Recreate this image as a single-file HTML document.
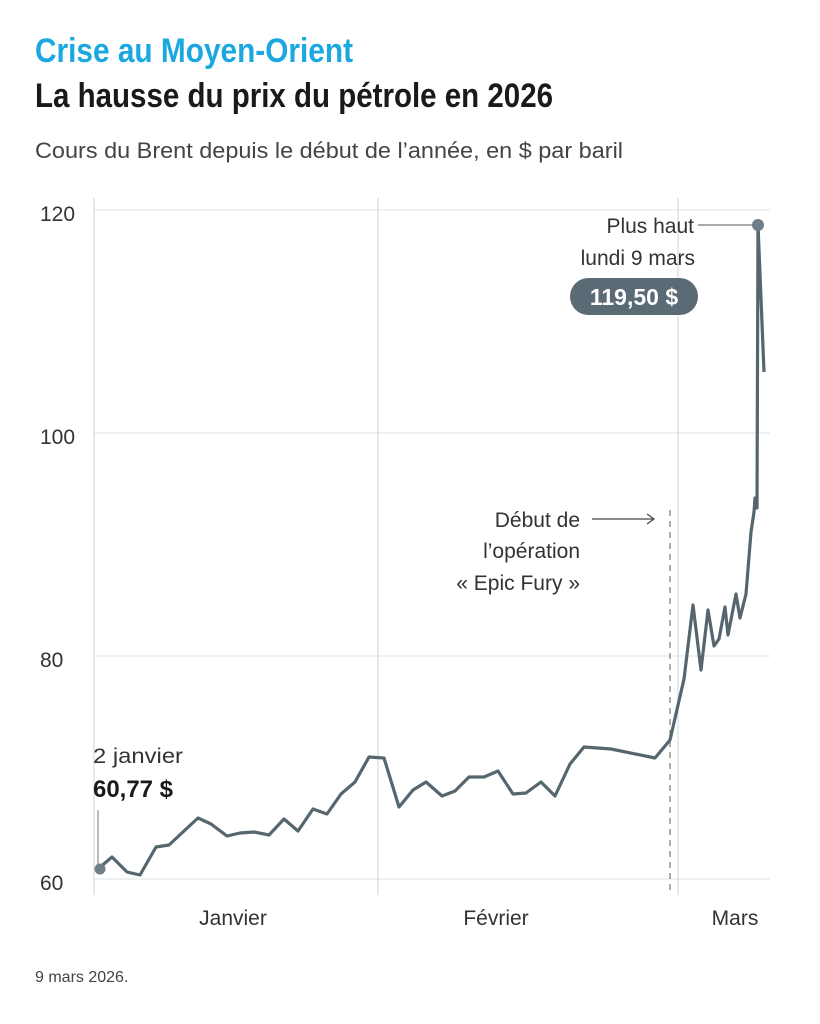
<!DOCTYPE html>
<html><head><meta charset="utf-8"><style>body{margin:0;background:#fff}svg{display:block}</style></head>
<body>
<svg width="820" height="1024" viewBox="0 0 820 1024" font-family="Liberation Sans, sans-serif">
<rect width="820" height="1024" fill="#fff"/>
<text x="35" y="62" font-size="34" font-weight="bold" fill="#1ba8e0" textLength="318" lengthAdjust="spacingAndGlyphs">Crise au Moyen-Orient</text>
<text x="35" y="107" font-size="34" font-weight="bold" fill="#1a1a1a" textLength="518" lengthAdjust="spacingAndGlyphs">La hausse du prix du pétrole en 2026</text>
<text x="35" y="158" font-size="22" fill="#444" textLength="588" lengthAdjust="spacingAndGlyphs">Cours du Brent depuis le début de l’année, en $ par baril</text>
<g stroke="#e3e8ec" stroke-width="1.2">
<line x1="94" y1="210" x2="770" y2="210"/><line x1="94" y1="433" x2="770" y2="433"/>
<line x1="94" y1="656" x2="770" y2="656"/><line x1="94" y1="879" x2="770" y2="879"/>
<line x1="94" y1="198" x2="94" y2="895" stroke="#d4dbe1"/><line x1="378" y1="198" x2="378" y2="895" stroke="#d4dbe1"/><line x1="678" y1="198" x2="678" y2="895" stroke="#d4dbe1"/>
</g>
<g font-size="21" fill="#333">
<text x="40" y="221">120</text><text x="40" y="444">100</text><text x="40" y="667">80</text><text x="40" y="890">60</text>
<text x="233" y="925" text-anchor="middle">Janvier</text><text x="496" y="925" text-anchor="middle">Février</text><text x="735" y="925" text-anchor="middle">Mars</text>
</g>
<text x="35" y="982" font-size="16" fill="#444">9 mars 2026.</text>
<line x1="670" y1="510" x2="670" y2="892" stroke="#777" stroke-width="1.2" stroke-dasharray="6,5"/>
<polyline fill="none" stroke="#56666f" stroke-width="3.2" stroke-linejoin="round" points="98,869 112,857 127,872 140,875 156,847 169,845 184,831 198,818 211,824 227,836 240,833 254,832 269,835 284,819 298,831 313,809 327,814 341,794 355,782 369,757 384,758 399,807 413,790 426,782 442,796 455,791 469,777 484,777 498,771 513,794 526,793 541,782 555,796 570,764 584,747 611,749 655,758 670,740 684,679 693,605 701,670 708,610 714,646 719,639 725,607 728,635 736,594 740,618 746,594 751,532 754,512 755,498 757,508 758,225 764,372"/>
<circle cx="100" cy="869" r="5.5" fill="#6d7e88"/>
<circle cx="758" cy="225" r="6" fill="#6d7e88"/>
<line x1="98" y1="810" x2="98" y2="864" stroke="#777" stroke-width="1"/>
<text x="93" y="763" font-size="21" fill="#333" textLength="90" lengthAdjust="spacingAndGlyphs">2 janvier</text>
<text x="93" y="797" font-size="24" font-weight="bold" fill="#1a1a1a" textLength="80" lengthAdjust="spacingAndGlyphs">60,77 $</text>
<line x1="698" y1="225" x2="752" y2="225" stroke="#777" stroke-width="1.2"/>
<text x="694" y="233" font-size="21" fill="#333" text-anchor="end">Plus haut</text>
<text x="695" y="265" font-size="21" fill="#333" text-anchor="end">lundi 9 mars</text>
<rect x="570" y="278" width="128" height="37" rx="18.5" fill="#5a6b76"/>
<text x="634" y="305" font-size="23" font-weight="bold" fill="#fff" text-anchor="middle">119,50 $</text>
<text x="580" y="527" font-size="21" fill="#333" text-anchor="end">Début de</text>
<text x="580" y="558" font-size="21" fill="#333" text-anchor="end">l’opération</text>
<text x="580" y="590" font-size="21" fill="#333" text-anchor="end">« Epic Fury »</text>
<line x1="592" y1="519" x2="653" y2="519" stroke="#444" stroke-width="1.2"/>
<polyline points="647,514 654,519 647,524" fill="none" stroke="#444" stroke-width="1.2"/>
</svg>
</body></html>
